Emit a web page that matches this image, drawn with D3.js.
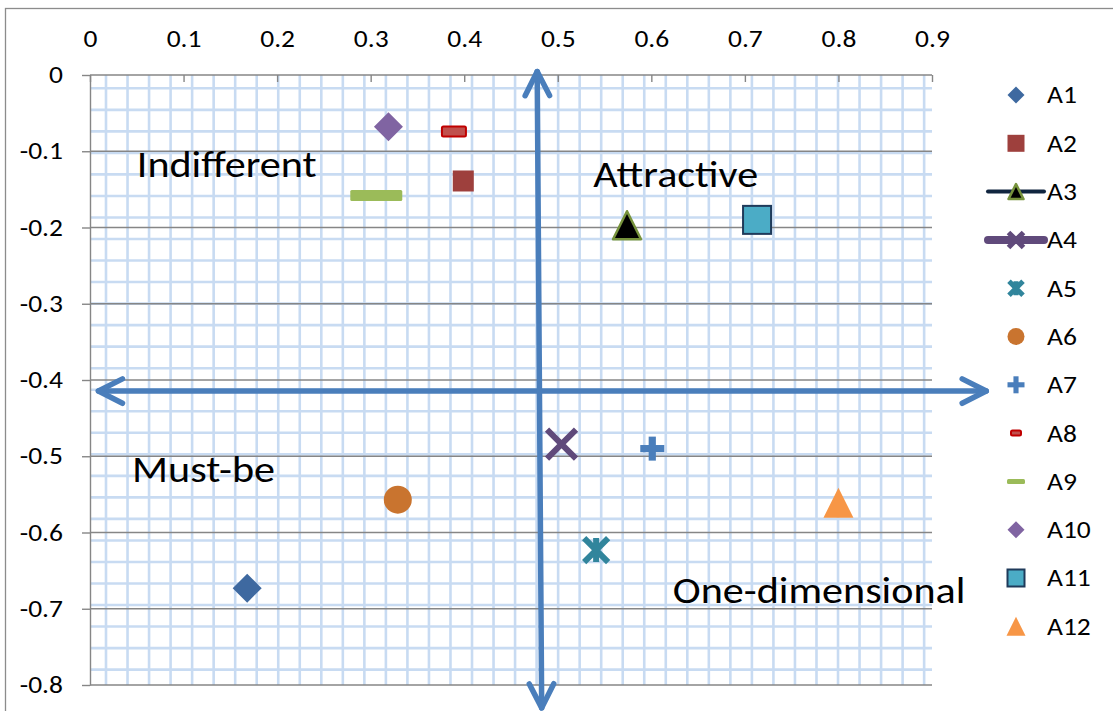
<!DOCTYPE html>
<html>
<head>
<meta charset="utf-8">
<script src="https://cdn.jsdelivr.net/npm/d3@7"></script>
<style>
  html, body { margin: 0; padding: 0; background: #fff; }
  svg { display: block; font-family: Carlito, Calibri, Lato, sans-serif; }
</style>
</head>
<body>
<div id="main"></div>
<script>
'use strict';

// series (one point each)
var names = ['A1', 'A2', 'A3', 'A4', 'A5', 'A6', 'A7', 'A8', 'A9', 'A10', 'A11', 'A12'];
var xVals = [0.168, 0.399, 0.574, 0.504, 0.541, 0.329, 0.601, 0.389, 0.306, 0.319, 0.713, 0.800];
var yVals = [-0.673, -0.139, -0.197, -0.484, -0.623, -0.557, -0.490, -0.074, -0.158, -0.068, -0.190, -0.561];

var xTicks = [0, 0.1, 0.2, 0.3, 0.4, 0.5, 0.6, 0.7, 0.8, 0.9];
var yTicks = [0, -0.1, -0.2, -0.3, -0.4, -0.5, -0.6, -0.7, -0.8];

// quadrant captions: text, x, baseline y (data units)
var quadNames = ['Indifferent', 'Attractive', 'Must-be', 'One-dimensional'];
var quadX = [0.050, 0.538, 0.045, 0.623];
var quadY = [-0.134, -0.147, -0.534, -0.6925];

var width = 1113, height = 711;
var M = { left: 90, top: 75, right: 932, bottom: 685 };
var STRETCH = 1.17;   // the source picture is a bit wider than tall

// marker look per series
var style = {
  A1:  { shape: 'diamond', size: 29, fill: '#3e69a0', lsize: 17 },
  A2:  { shape: 'square', size: 21, fill: '#9e403d', lsize: 17 },
  A3:  { shape: 'triangle', size: 28, fill: '#000', stroke: '#77933c', sw: 2.5, lsize: 15, line: '#10253f', lw: 4 },
  A4:  { shape: 'x', size: 29, stroke: '#604a7b', sw: 6, lsize: 15, line: '#604a7b', lw: 8 },
  A5:  { shape: 'star', size: 24, stroke: '#31859c', sw: 6, lsize: 14 },
  A6:  { shape: 'circle', size: 28, fill: '#c9742f', lsize: 17 },
  A7:  { shape: 'plus', size: 24, fill: '#4a7ebb', lsize: 17 },
  A8:  { shape: 'dash', size: 24, h: 10, fill: '#c0504d', stroke: '#c00000', sw: 2, lsize: 10, lh: 5 },
  A9:  { shape: 'dash', size: 52, h: 11, fill: '#9bbb59', lsize: 18, lh: 5 },
  A10: { shape: 'diamond', size: 29, fill: '#8064a2', lsize: 17 },
  A11: { shape: 'square', size: 28, fill: '#4bacc6', stroke: '#1f3a5a', sw: 2, lsize: 17 },
  A12: { shape: 'triangle', size: 30, fill: '#f79646', lsize: 19 }
};

var svg = d3.select('#main').append('svg')
  .attr('width', width).attr('height', height);

// chart area border
svg.append('rect')
  .attr('x', 5.5).attr('y', 8.5)
  .attr('width', width + 20).attr('height', height + 20)
  .attr('fill', '#fff').attr('stroke', '#8c8c8c').attr('stroke-width', 1.3);

var x = d3.scaleLinear().domain([0, 0.9]).range([M.left, M.right]);
var y = d3.scaleLinear().domain([0, -0.8]).range([M.top, M.bottom]);

// place a text at (tx,ty) with the horizontal stretch
function stretchAt(sel, tx, ty) {
  sel.attr('x', null).attr('y', null)
    .attr('transform', 'translate(' + tx + ',' + ty + ') scale(' + STRETCH + ',1)');
}

// graph paper texture of the plot area
var paper = svg.append('g');
var cell = 21.53;
d3.range(106, M.right, cell).forEach(function(px) {
  paper.append('line').attr('x1', px).attr('x2', px)
    .attr('y1', M.top).attr('y2', M.bottom)
    .attr('stroke', '#c8dbf2').attr('stroke-width', 2.6);
});
d3.range(88.3, M.bottom, cell).forEach(function(py) {
  paper.append('line').attr('y1', py).attr('y2', py)
    .attr('x1', M.left).attr('x2', M.right)
    .attr('stroke', '#c8dbf2').attr('stroke-width', 2.6);
});

// major horizontal gridlines
svg.append('g').selectAll('line').data(yTicks).enter().append('line')
  .attr('x1', M.left).attr('x2', M.right)
  .attr('y1', function(d) { return y(d); }).attr('y2', function(d) { return y(d); })
  .attr('stroke', '#868686').attr('stroke-width', 1.4);

// x axis on top, ticks inside
var xAxis = svg.append('g').attr('transform', 'translate(0,' + M.top + ')')
  .call(d3.axisBottom(x).tickValues(xTicks).tickSizeInner(7).tickSizeOuter(0).tickFormat(d3.format('')));
xAxis.select('.domain').remove();
xAxis.selectAll('.tick line').attr('stroke', '#868686').attr('stroke-width', 1.4);
xAxis.selectAll('.tick text')
  .attr('dy', '0.35em')
  .attr('font-size', 23.5).attr('fill', '#000')
  .style('font-family', 'Carlito, Calibri, Lato, sans-serif')
  .each(function() { stretchAt(d3.select(this), 0, -36); });

// y axis
var yAxis = svg.append('g').attr('transform', 'translate(' + M.left + ',0)')
  .call(d3.axisLeft(y).tickValues(yTicks).tickSizeInner(8).tickSizeOuter(0).tickFormat(d3.format('')));
yAxis.select('.domain').attr('stroke', '#868686').attr('stroke-width', 1.4);
yAxis.selectAll('.tick line').attr('stroke', '#868686').attr('stroke-width', 1.4);
yAxis.selectAll('.tick text')
  .attr('font-size', 23.5).attr('fill', '#000')
  .style('font-family', 'Carlito, Calibri, Lato, sans-serif')
  .text(function(d) { return d3.format('')(d).replace('\u2212', '-'); })
  .each(function() { stretchAt(d3.select(this), -27, 0); });

// quadrant arrows
var arrowColor = '#4a7ebb';
var arrowG = svg.append('g').attr('fill', 'none').attr('stroke', arrowColor)
  .attr('stroke-width', 5.5).attr('stroke-linecap', 'round').attr('stroke-linejoin', 'round');

function doubleArrow(x1, y1, x2, y2) {
  var a = [x(x1), y(y1)], b = [x(x2), y(y2)];
  arrowG.append('line').attr('x1', a[0]).attr('y1', a[1]).attr('x2', b[0]).attr('y2', b[1]);
  [[a, b], [b, a]].forEach(function(p) {
    var tip = p[0], from = p[1];
    var ang = Math.atan2(from[1] - tip[1], from[0] - tip[0]);
    var len = 27, spread = 0.47;
    var p1 = [tip[0] + len * Math.cos(ang - spread), tip[1] + len * Math.sin(ang - spread)];
    var p2 = [tip[0] + len * Math.cos(ang + spread), tip[1] + len * Math.sin(ang + spread)];
    arrowG.append('path').attr('d', 'M' + p1 + 'L' + tip + 'L' + p2);
  });
}
doubleArrow(0.009, -0.4145, 0.958, -0.4145);
doubleArrow(0.478, 0.0045, 0.4828, -0.830);

// quadrant captions
svg.append('g').selectAll('text').data(quadNames).enter().append('text')
  .attr('font-size', 36).attr('fill', '#000')
  .text(function(d) { return d; })
  .each(function(d, i) { stretchAt(d3.select(this), x(quadX[i]), y(quadY[i])); });

// marker drawing
function drawMarker(g, st, s, small) {
  var h = s / 2;
  switch (st.shape) {
    case 'diamond':
      g.append('path').attr('d', 'M0,' + (-h) + 'L' + h + ',0L0,' + h + 'L' + (-h) + ',0Z').attr('fill', st.fill);
      break;
    case 'square':
      g.append('rect').attr('x', -h).attr('y', -h).attr('width', s).attr('height', s)
        .attr('fill', st.fill).attr('stroke', st.stroke || 'none').attr('stroke-width', st.sw || 0);
      break;
    case 'triangle':
      g.append('path').attr('d', 'M0,' + (-h) + 'L' + h + ',' + h + 'L' + (-h) + ',' + h + 'Z')
        .attr('fill', st.fill).attr('stroke', st.stroke || 'none').attr('stroke-width', st.sw || 0)
        .attr('stroke-linejoin', 'round');
      break;
    case 'circle':
      g.append('circle').attr('r', h).attr('fill', st.fill);
      break;
    case 'x':
      g.append('path').attr('d', 'M' + (-h) + ',' + (-h) + 'L' + h + ',' + h + 'M' + h + ',' + (-h) + 'L' + (-h) + ',' + h)
        .attr('stroke', st.stroke).attr('stroke-width', small ? 5 : st.sw).attr('fill', 'none');
      break;
    case 'star':
      g.append('path').attr('d', 'M' + (-h) + ',' + (-h) + 'L' + h + ',' + h + 'M' + h + ',' + (-h) + 'L' + (-h) + ',' + h +
          'M0,' + (-h) + 'L0,' + h)
        .attr('stroke', st.stroke).attr('stroke-width', small ? 5 : st.sw).attr('fill', 'none');
      break;
    case 'plus':
      var t = s * 0.3;
      g.append('rect').attr('x', -h).attr('y', -t / 2).attr('width', s).attr('height', t).attr('fill', st.fill);
      g.append('rect').attr('x', -t / 2).attr('y', -h).attr('width', t).attr('height', s).attr('fill', st.fill);
      break;
    case 'dash':
      var dh = small ? st.lh : st.h;
      g.append('rect').attr('x', -h).attr('y', -dh / 2).attr('width', s).attr('height', dh)
        .attr('rx', 1.5)
        .attr('fill', st.fill).attr('stroke', st.stroke || 'none').attr('stroke-width', st.sw || 0);
      break;
  }
}

// points
var pts = svg.append('g');
names.forEach(function(n, i) {
  var g = pts.append('g').attr('transform', 'translate(' + x(xVals[i]) + ',' + y(yVals[i]) + ')');
  drawMarker(g, style[n], style[n].size, false);
});

// legend
var legend = svg.append('g');
names.forEach(function(n, i) {
  var st = style[n];
  var row = legend.append('g').attr('transform', 'translate(1016,' + (95 + i * 48.3) + ')');
  if (st.line) {
    row.append('line').attr('x1', -28).attr('x2', 28)
      .attr('stroke', st.line).attr('stroke-width', st.lw).attr('stroke-linecap', 'round');
  }
  drawMarker(row, st, st.lsize, true);
  var t = row.append('text').attr('dy', '0.36em')
    .attr('font-size', 23.5).attr('fill', '#000').text(n);
  stretchAt(t, 31, 0);
});
</script>
</body>
</html>
